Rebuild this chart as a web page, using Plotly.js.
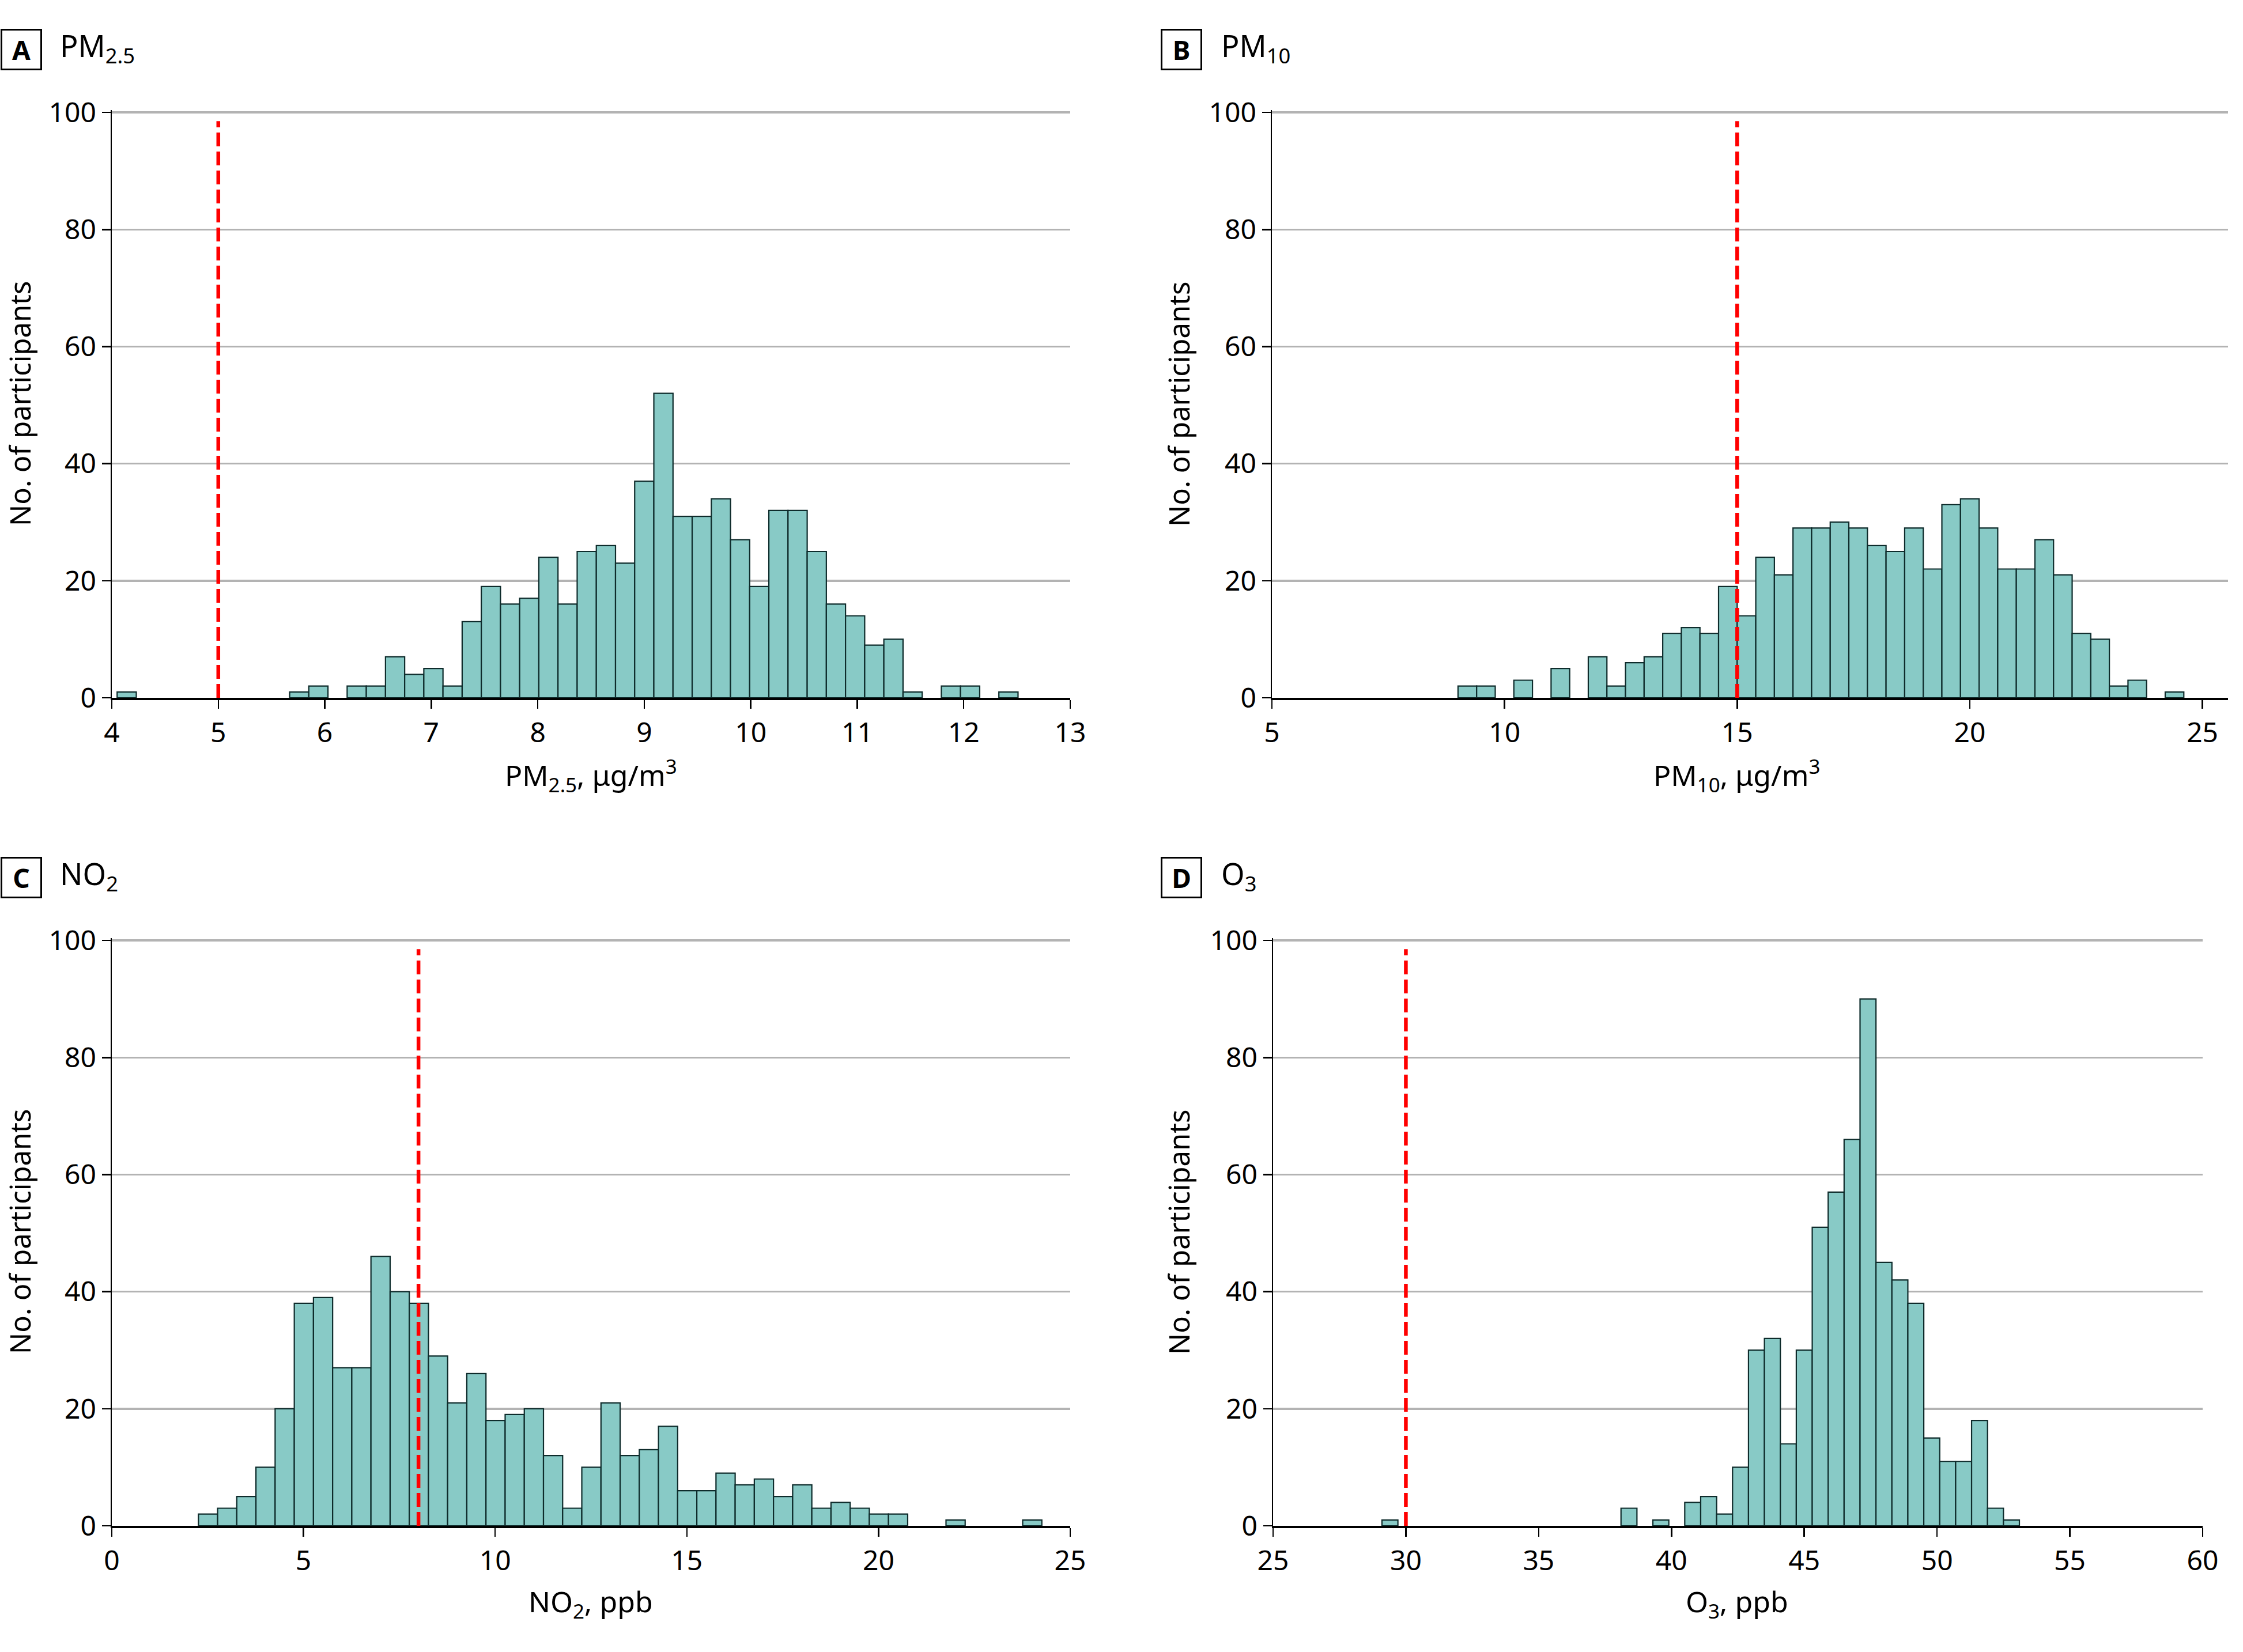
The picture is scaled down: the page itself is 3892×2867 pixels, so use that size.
<!DOCTYPE html>
<html>
<head>
<meta charset="utf-8">
<script src="https://cdn.plot.ly/plotly-3.0.1.min.js"></script>
<style>html,body{margin:0;padding:0;background:#fff;}#chart{width:3892px;height:2867px;}</style>
</head>
<body>
<div id="chart"></div>
<script>
// ---- Data (histogram counts) ----
// Panel A: PM2.5
var pm25Start = 4.05, pm25Width = 0.18;
var pm25Counts = [1,0,0,0,0,0,0,0,0,1,2,0,2,2,7,4,5,2,13,19,16,17,24,16,25,26,23,37,52,31,31,34,27,19,32,32,25,16,14,9,10,1,0,2,2,0,1];
var pm25Guideline = 5;
// Panel B: PM10
var pm10Start = 9.0, pm10Width = 0.4;
var pm10Counts = [2,2,0,3,0,5,0,7,2,6,7,11,12,11,19,14,24,21,29,29,30,29,26,25,29,22,33,34,29,22,22,27,21,11,10,2,3,0,1];
var pm10Guideline = 15;
// Panel C: NO2
var no2Start = 2.26, no2Width = 0.5;
var no2Counts = [2,3,5,10,20,38,39,27,27,46,40,38,29,21,26,18,19,20,12,3,10,21,12,13,17,6,6,9,7,8,5,7,3,4,3,2,2,0,0,1,0,0,0,1];
var no2Guideline = 8;
// Panel D: O3
var o3Start = 29.1, o3Width = 0.6;
var o3Counts = [1,0,0,0,0,0,0,0,0,0,0,0,0,0,0,3,0,1,0,4,5,2,10,30,32,14,30,51,57,66,90,45,42,38,15,11,11,18,3,1];
var o3Guideline = 30;

var panelLetters = ['A','B','C','D'];
var panelTitles = ['PM<sub>2.5</sub>','PM<sub>10</sub>','NO<sub>2</sub>','O<sub>3</sub>'];
var xTitles = ['PM<sub>2.5</sub>, μg/m<sup>3</sup>','PM<sub>10</sub>, μg/m<sup>3</sup>','NO<sub>2</sub>, ppb','O<sub>3</sub>, ppb'];
var yTitle = 'No. of participants';
var yTicks = [0,20,40,60,80,100];

// ---- Build ----
var W = 3892, H = 2867;
var FONT = 'Noto Sans, Open Sans, DejaVu Sans, sans-serif';
function px2x(p){return p/W;}
function px2y(p){return 1-p/H;}

function binTrace(start, width, counts, xa, ya){
  var xs=[], ys=[];
  counts.forEach(function(c,i){ if(c>0){ xs.push(start+(i+0.5)*width); ys.push(c);} });
  return {type:'bar', x:xs, y:ys, width:width, xaxis:xa, yaxis:ya,
    marker:{color:'#88CAC6', line:{color:'#0E2B2B', width:2.2}}, hoverinfo:'skip', showlegend:false};
}

var data = [
  binTrace(pm25Start, pm25Width, pm25Counts, 'x', 'y'),
  binTrace(pm10Start, pm10Width, pm10Counts, 'x2', 'y2'),
  binTrace(no2Start, no2Width, no2Counts, 'x3', 'y3'),
  binTrace(o3Start, o3Width, o3Counts, 'x4', 'y4')
];

var colL = [194, 1857], colR = [2207, 3866], colRD = [2209, 3822];
var rowT = [191, 1211], rowB = [1628, 2648];

function xax(dom, range, dtick, tick0, ya){
  return {domain:[px2x(dom[0]), px2x(dom[1])], range:range, dtick:dtick, tick0:tick0, anchor:ya,
    ticks:'outside', ticklen:15, tickwidth:2.5, tickcolor:'#000',
    showline:true, linewidth:4, linecolor:'#000', showgrid:false, zeroline:false,
    tickfont:{family:FONT, size:48, color:'#000'}, fixedrange:true};
}
function yax(dom, xa){
  return {domain:[px2y(dom[1]), px2y(dom[0])], range:[0,100.4], tickvals:yTicks, anchor:xa,
    ticks:'outside', ticklen:15, tickwidth:2.5, tickcolor:'#000',
    showline:true, linewidth:2.5, linecolor:'#000',
    showgrid:true, gridcolor:'#B3B3B3', gridwidth:3.5, zeroline:false,
    tickfont:{family:FONT, size:48, color:'#000'}, fixedrange:true};
}

var guides = [pm25Guideline, pm10Guideline, no2Guideline, o3Guideline];
var axN = ['', '2', '3', '4'];
var shapes = guides.map(function(g,i){
  return {type:'line', xref:'x'+axN[i], yref:'y'+axN[i], x0:g, x1:g, y0:0, y1:98.5, layer:'above',
    line:{color:'#FF0000', width:6.5, dash:'24px,9px'}};
});

var boxCenters = [[37,86],[2050,86],[37,1523],[2050,1523]];
var titleLeft = [102, 2117, 102, 2117];
var xTitleCenters = [[1025,1345],[3014,1345],[1025,2782],[3014,2782]];
var yTitleCenters = [[34,701],[2045,701],[34,2138],[2045,2138]];
var annotations = [];
for (var i=0;i<4;i++){
  annotations.push({xref:'paper', yref:'paper', x:px2x(boxCenters[i][0]), y:px2y(boxCenters[i][1]),
    xanchor:'center', yanchor:'middle', text:'<b>'+panelLetters[i]+'</b>', showarrow:false,
    width:66, height:66, bordercolor:'#000', borderwidth:3, borderpad:0, align:'center', valign:'middle',
    font:{family:FONT, size:46, color:'#000'}});
  annotations.push({xref:'paper', yref:'paper', x:px2x(titleLeft[i]), y:px2y(boxCenters[i][1]-4),
    xanchor:'left', yanchor:'middle', text:panelTitles[i], showarrow:false,
    font:{family:FONT, size:52, color:'#000'}});
  annotations.push({xref:'paper', yref:'paper', x:px2x(xTitleCenters[i][0]), y:px2y(xTitleCenters[i][1]),
    xanchor:'center', yanchor:'middle', text:xTitles[i], showarrow:false,
    font:{family:FONT, size:50, color:'#000'}});
  annotations.push({xref:'paper', yref:'paper', x:px2x(yTitleCenters[i][0]), y:px2y(yTitleCenters[i][1]),
    xanchor:'center', yanchor:'middle', text:yTitle, textangle:-90, showarrow:false,
    font:{family:FONT, size:49, color:'#000'}});
}

var layout = {
  width:W, height:H, margin:{l:0,r:0,t:0,b:0}, paper_bgcolor:'#fff', plot_bgcolor:'#fff',
  showlegend:false, bargap:0,
  xaxis: xax(colL, [4,13], 1, 4, 'y'),
  yaxis: yax(rowT, 'x'),
  xaxis2: xax(colR, [5,25.55], 5, 5, 'y2'),
  yaxis2: yax(rowT, 'x2'),
  xaxis3: xax(colL, [0,25], 5, 0, 'y3'),
  yaxis3: yax(rowB, 'x3'),
  xaxis4: xax(colRD, [25,60], 5, 25, 'y4'),
  yaxis4: yax(rowB, 'x4'),
  shapes:shapes, annotations:annotations
};

Plotly.newPlot('chart', data, layout, {staticPlot:true, displayModeBar:false});
</script>
</body>
</html>
